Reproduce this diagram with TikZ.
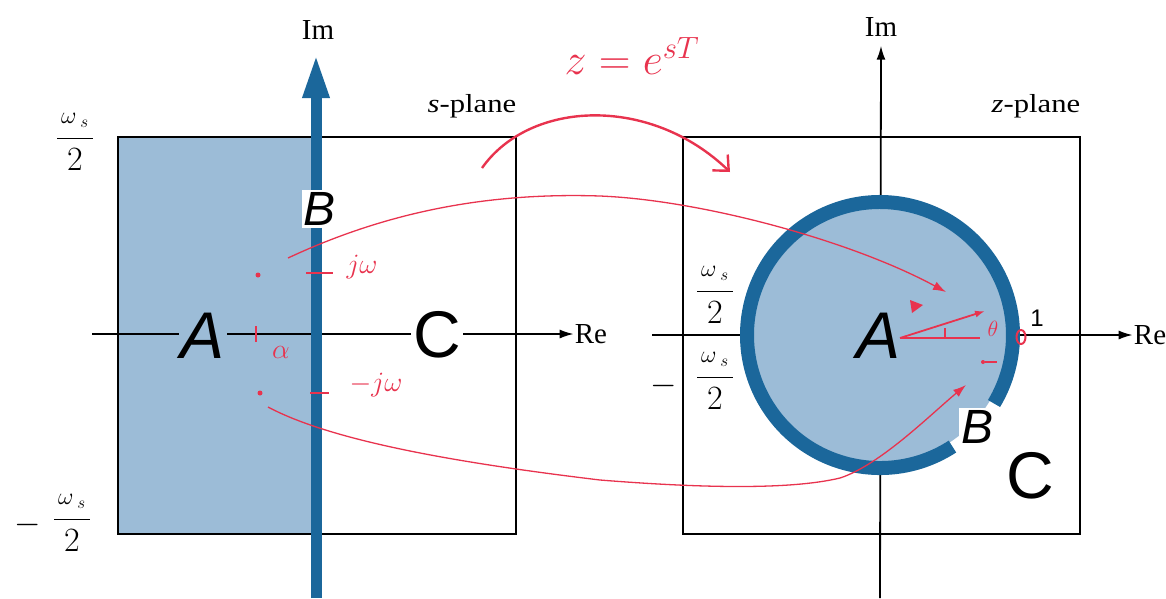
\RequirePackage{fix-cm}
\documentclass[tikz,border=0pt]{standalone}
\usepackage{graphicx}
\usepackage{fontspec}
\setmainfont{Liberation Serif}
\newfontfamily\arialf{Liberation Sans}
\usetikzlibrary{arrows.meta,shapes.geometric}
\definecolor{ringblue}{HTML}{1B679B}
\definecolor{fillblue}{HTML}{9CBCD7}
\definecolor{inkred}{HTML}{E8334E}
\begin{document}
\begin{tikzpicture}[x=1pt,y=-1pt,
  axisline/.style={line width=1.8pt,-{Latex[length=14pt,width=9pt]}},
  boxline/.style={draw,line width=1.8pt},
  lbl/.style={font=\fontsize{29}{29}\selectfont,inner sep=1pt},
  plbl/.style={font=\fontsize{26}{26}\selectfont,inner sep=1pt},
  fraclbl/.style={font=\fontsize{34}{34}\selectfont,inner sep=1pt},
  bigit/.style={font=\arialf\itshape\fontsize{66}{66}\selectfont,inner sep=2pt},
  bigup/.style={font=\arialf\fontsize{66}{66}\selectfont,inner sep=2pt},
  midit/.style={font=\arialf\itshape\fontsize{48}{48}\selectfont,inner sep=2pt},
  redline/.style={draw=inkred,line width=1.3pt},
  redtext/.style={text=inkred,font=\fontsize{28}{28}\selectfont,inner sep=1pt},
  reddot/.style={circle,fill=inkred,inner sep=0pt,minimum size=5pt}]
\useasboundingbox (0,0) rectangle (1166,598);
% ---------------- left: s-plane ----------------
\fill[fillblue] (118,137) rectangle (316,534);
\draw[boxline] (118,137) rectangle (516,534);
\node[lbl] (reL) at (591,334) {Re};
\coordinate (reLs) at (92,334);
\draw[axisline] (reLs) -- (reL.west);
\node[lbl] (imL) at (318,30) {Im};
\coordinate (imLs) at (316,598);
\coordinate (imLt) at (316,53);
\draw[ringblue,line width=11pt,-{Triangle[length=45pt,width=24pt]}] (imLs) -- (imLt);
\node[bigit,fill=fillblue] (AL) at (203,336) {A};
\node[bigup,fill=white] (CL) at (437,335) {C};
\node[midit,fill=white] (BL) at (320,209) {B};
\node[plbl] (spl) at (472,106) {\scalebox{1.18}[1]{\textit{s}-plane}};
\node[fraclbl] (wtL) at (75,142) {$\displaystyle\frac{\scriptstyle\,\omega_{\;s}\,}{2}$};
\node[fraclbl] (wbL) at (72,523) {$\displaystyle\frac{\scriptstyle\,\omega_{\;s}\,}{2}$};
\node[fraclbl] (mbL) at (28,525) {$-$};
% ---------------- right: z-plane ----------------
\draw[boxline] (683,137) rectangle (1080,534);
\node[lbl] (reR) at (1150,335) {Re};
\coordinate (reRs) at (652,335);
\draw[axisline] (reRs) -- (reR.west);
\node[lbl] (imR) at (881,27) {Im};
\coordinate (imRs) at (880,598);
\draw[axisline,shorten >=8pt] (imRs) -- (imR.south);
\coordinate (O) at (880,335);
\fill[fillblue] (O) circle (128);
\draw[ringblue,line width=14pt] (O) ++(57:133) arc[start angle=57,end angle=391,radius=133];
\node[bigit] (AR) at (878,336) {A};
\node[midit,fill=white] (BR) at (977,427) {B};
\node[bigup] (CR) at (1030,476) {C};
\node[font=\arialf\fontsize{24}{24}\selectfont,inner sep=1pt] (one) at (1037,318) {1};
\node[plbl] (zpl) at (1036,106) {\scalebox{1.18}[1]{\textit{z}-plane}};
\node[fraclbl] (wtR) at (715,295) {$\displaystyle\frac{\scriptstyle\,\omega_{\;s}\,}{2}$};
\node[fraclbl] (wbR) at (715,381) {$\displaystyle\frac{\scriptstyle\,\omega_{\;s}\,}{2}$};
\node[fraclbl] (mbR) at (664,386) {$-$};
% ---------------- red annotations ----------------
\node[text=inkred,font=\fontsize{44}{44}\selectfont,inner sep=1pt] (eq) at (632,56) {$z = e^{sT}$};
\coordinate (bs) at (482,168);
\coordinate (be) at (730,172);
\draw[inkred,line width=2.4pt,-{Straight Barb[length=12pt,width=22pt]}] (bs) .. controls (530,100) and (650,95) .. (be);
% points in s-plane
\node[reddot] (dU) at (258,275) {};
\node[reddot] (dD) at (260,393) {};
\coordinate (jt1) at (306,273); \coordinate (jt2) at (333,273);
\draw[redline,line width=2pt] (jt1) -- (jt2);
\node[redtext] (jw) at (362,267) {$j\omega$};
\coordinate (mj1) at (310,393); \coordinate (mj2) at (329,393);
\draw[redline,line width=2pt] (mj1) -- (mj2);
\node[redtext] (mjw) at (376,385) {$-j\omega$};
\coordinate (at1) at (256,326); \coordinate (at2) at (256,342);
\draw[redline,line width=2.6pt] (at1) -- (at2);
\node[redtext] (al) at (281,352) {$\alpha$};
% mapping curves
\coordinate (c1s) at (288,258);
\coordinate (c1e) at (946,292);
\draw[redline,-{Latex[length=13pt,width=9pt]}] (c1s) .. controls (380,215) and (480,192) .. (600,196) .. controls (700,200) and (850,240) .. (c1e);
\coordinate (c2s) at (268,407);
\coordinate (c2e) at (966,385);
\draw[redline,-{Latex[length=13pt,width=9pt]}] (c2s) .. controls (330,440) and (450,462) .. (600,480) .. controls (700,488) and (790,490) .. (840,478) .. controls (880,465) and (930,415) .. (c2e);
% angle in z-plane
\coordinate (h1) at (900,338); \coordinate (h2) at (980,338);
\draw[redline,line width=1.8pt] (h1) -- (h2);
\coordinate (tk1) at (945,328); \coordinate (tk2) at (945,338);
\draw[redline] (tk1) -- (tk2);
\coordinate (ra) at (985,311);
\draw[redline,line width=1.8pt,-{Latex[length=10pt,width=7pt]}] (h1) -- (ra);
\node[redtext,font=\fontsize{22}{22}\selectfont] (th) at (993,329) {$\theta$};
\node[draw=inkred,line width=2pt,ellipse,minimum width=9pt,minimum height=14pt,inner sep=0pt] (ell) at (1021,337) {};
\fill[inkred] (910,300) -- (923,305) -- (912,313) -- cycle;
\node[reddot,minimum size=4pt] (dR) at (983,362) {};
\coordinate (dR2) at (997,362);
\draw[redline] (dR) -- (dR2);
\end{tikzpicture}
\end{document}
